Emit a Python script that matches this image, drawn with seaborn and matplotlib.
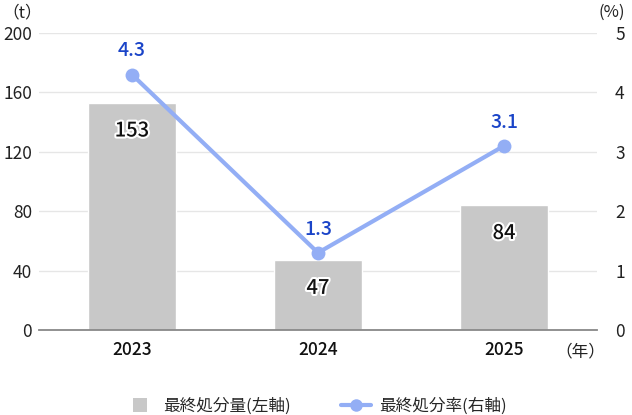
import matplotlib
matplotlib.use("Agg")
import matplotlib.pyplot as plt
import matplotlib.patheffects as pe
from matplotlib.lines import Line2D
import seaborn as sns
import pandas as pd

years = ["2023", "2024", "2025"]
amount_t = [153, 47, 84]
rate_pct = [4.3, 1.3, 3.1]
left_ticks = [0, 40, 80, 120, 160, 200]
right_ticks = [0, 1, 2, 3, 4, 5]

sns.set_theme(style="white")
plt.rcParams['font.family'] = ['Noto Sans CJK JP', 'DejaVu Sans']

bar_color = "#c8c8c8"
line_color = "#93aef5"
label_blue = "#1a44c8"

df = pd.DataFrame({"year": years, "amount": amount_t, "rate": rate_pct})

fig = plt.figure(figsize=(6.32, 4.15), dpi=100)
ax = fig.add_axes([39/632, 1-330/415, 558/632, 297/415])
sns.barplot(data=df, x="year", y="amount", color=bar_color, width=0.47,
            saturation=1, ax=ax, zorder=2)
ax.set_xlim(-0.5, 2.5)
ax.set_ylim(0, 200)
ax.set_yticks(left_ticks)
ax.set_yticklabels([str(v) for v in left_ticks], fontsize=12.5, color="#222222")
ax.tick_params(axis="y", length=0, pad=5)
ax.tick_params(axis="x", length=0, pad=8, labelsize=12.5, labelcolor="#111111")
for lbl in ax.get_xticklabels():
    lbl.set_fontweight("medium")
ax.set_xlabel("")
ax.set_ylabel("")
ax.grid(axis="y", color="#e6e6e6", linewidth=1, zorder=0)
ax.set_axisbelow(True)
for s in ["top", "right", "left"]:
    ax.spines[s].set_visible(False)
ax.spines["bottom"].set_color("#888888")
ax.spines["bottom"].set_linewidth(1.3)
ax.spines["bottom"].set_zorder(5)

for i, v in enumerate(amount_t):
    ax.text(i, v - 19, str(v), ha="center", va="center", fontsize=14.5,
            color="#111111", zorder=6, fontweight="medium",
            path_effects=[pe.withStroke(linewidth=3, foreground="white")])

ax2 = ax.twinx()
sns.lineplot(x=[0, 1, 2], y=rate_pct, ax=ax2, color=line_color, linewidth=3,
             marker="o", markersize=10, markeredgewidth=0, zorder=4)
ax2.set_ylim(0, 5)
ax2.set_xlim(-0.5, 2.5)
ax2.set_yticks(right_ticks)
ax2.set_yticklabels([str(v) for v in right_ticks], fontsize=12.5, color="#222222")
ax2.tick_params(axis="y", length=0, pad=13)
for s in ["top", "right", "left", "bottom"]:
    ax2.spines[s].set_visible(False)
ax2.grid(False)
for i, v in enumerate(rate_pct):
    ax2.annotate(f"{v}", (i, v), xytext=(0, 17), textcoords="offset points",
                 ha="center", va="center", fontsize=14, color=label_blue,
                 fontweight="medium")

fig.text(22/632, 1-13/415, "（t）", ha="center", va="center", fontsize=12, color="#222222")
fig.text(612/632, 1-12/415, "(%)", ha="center", va="center", fontsize=12, color="#222222")
fig.text(580/632, 1-352/415, "（年）", ha="center", va="center", fontsize=12, color="#222222")

handles = [Line2D([0], [0], color=bar_color, linestyle="none", marker="s",
                  markersize=10, markeredgewidth=0),
           Line2D([0], [0], color=line_color, linewidth=3, marker="o",
                  markersize=9, markeredgewidth=0)]
fig.legend(handles, ["最終処分量(左軸)", "最終処分率(右軸)"], loc="center",
           bbox_to_anchor=(0.5, 1-406/415), ncol=2, frameon=False,
           fontsize=12, handlelength=1.8, columnspacing=3.0, handletextpad=0.5)

fig.savefig("out.png", dpi=100)
